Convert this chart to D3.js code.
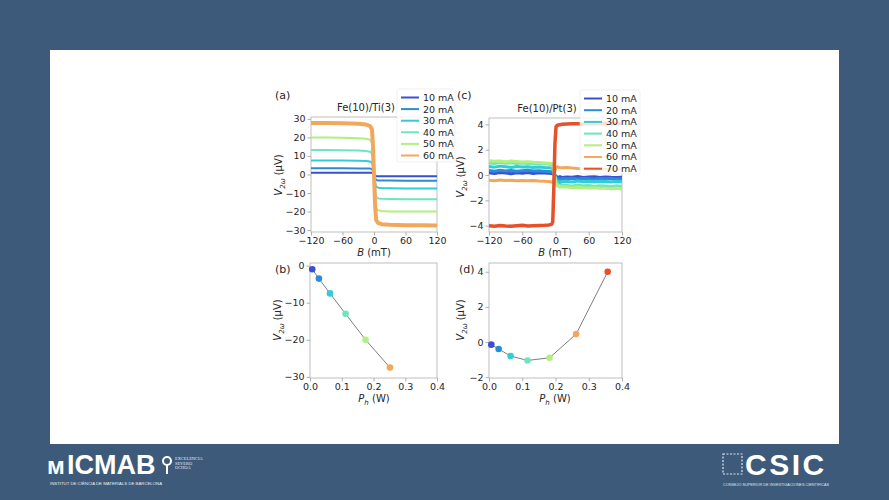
<!DOCTYPE html>
<html>
<head>
<meta charset="utf-8">
<script src="https://cdn.jsdelivr.net/npm/d3@7"></script>
<style>
  body { margin: 0; background: #3d5a7b; }
  svg { display: block; }
</style>
</head>
<body>
<svg id="slide" width="889" height="500"></svg>
<script>
// ---- data ----
const currentsA = ["10 mA", "20 mA", "30 mA", "40 mA", "50 mA", "60 mA"];
const currentsC = ["10 mA", "20 mA", "30 mA", "40 mA", "50 mA", "60 mA", "70 mA"];
const colors = ["#3b4fd3", "#2a8bd8", "#33cbd8", "#6de6be", "#b2ee80", "#f2a85c", "#e8502a"];

// (a) Fe(10)/Ti(3)
const fieldA = [-120, -90, -60, -30, -15, -8, -4, -2, 0, 2, 4, 8, 15, 30, 60, 90, 120];
const vA = [
  [1.0, 1.0, 1.0, 1.0, 1.0, 0.9, 0.9, 0.5, 0, -0.5, -0.9, -1.0, -1.0, -1.0, -1.0, -1.0, -1.0],
  [3.4, 3.4, 3.4, 3.3, 3.3, 3.2, 3.0, 2.0, 0, -2.0, -3.0, -3.2, -3.3, -3.3, -3.4, -3.4, -3.4],
  [7.6, 7.6, 7.5, 7.4, 7.3, 7.0, 6.5, 4.0, 0, -4.0, -6.6, -7.1, -7.3, -7.4, -7.5, -7.5, -7.5],
  [13.2, 13.2, 13.1, 12.9, 12.7, 12.3, 11.5, 7.0, 0, -7.0, -12.0, -12.9, -13.1, -13.2, -13.3, -13.3, -13.3],
  [19.9, 19.9, 19.8, 19.6, 19.3, 18.8, 17.5, 11.0, 0, -11.0, -18.0, -19.3, -19.7, -19.9, -20.0, -20.0, -20.0],
  [27.8, 27.7, 27.6, 27.3, 26.9, 26.2, 24.5, 16.0, 0, -16.0, -24.5, -26.2, -26.8, -27.1, -27.3, -27.4, -27.5]
];

// (c) Fe(10)/Pt(3)
const fieldC = [-120, -110, -100, -90, -80, -70, -60, -50, -40, -30, -20, -12, -7, -5, -3, -1,
                1, 3, 5, 8, 12, 20, 30, 40, 50, 60, 70, 80, 90, 100, 110, 120];
const vC = [
  [0.18, 0.12, 0.2, 0.15, 0.1, 0.18, 0.14, 0.2, 0.12, 0.17, 0.15, 0.13, 0.12, 0.1, 0.05, 0, -0.1, -0.15, -0.18, -0.12, -0.2, -0.15, -0.18, -0.12, -0.2, -0.16, -0.14, -0.2, -0.15, -0.18, -0.2, -0.17],
  [0.35, 0.3, 0.38, 0.32, 0.36, 0.3, 0.34, 0.37, 0.31, 0.33, 0.3, 0.28, 0.26, 0.22, 0.1, 0, -0.15, -0.25, -0.3, -0.35, -0.28, -0.3, -0.26, -0.32, -0.28, -0.3, -0.33, -0.27, -0.3, -0.28, -0.32, -0.3],
  [0.68, 0.62, 0.7, 0.65, 0.6, 0.67, 0.63, 0.66, 0.6, 0.64, 0.6, 0.58, 0.55, 0.5, 0.2, -0.1, -0.35, -0.5, -0.55, -0.6, -0.52, -0.5, -0.55, -0.48, -0.53, -0.5, -0.55, -0.5, -0.52, -0.56, -0.5, -0.53],
  [0.95, 0.9, 0.98, 0.92, 0.96, 0.9, 0.94, 0.9, 0.93, 0.88, 0.9, 0.85, 0.82, 0.75, 0.3, -0.2, -0.6, -0.75, -0.82, -0.85, -0.8, -0.82, -0.86, -0.8, -0.85, -0.83, -0.88, -0.84, -0.86, -0.9, -0.85, -0.88],
  [1.12, 1.08, 1.1, 1.05, 1.1, 1.06, 1.02, 1.05, 1.0, 0.98, 0.95, 0.92, 0.9, 0.85, 0.4, -0.3, -0.7, -0.85, -0.9, -0.95, -0.92, -0.95, -1.0, -0.97, -1.0, -1.02, -1.0, -1.05, -1.05, -1.08, -1.05, -1.1],
  [-0.42, -0.45, -0.4, -0.44, -0.42, -0.46, -0.43, -0.45, -0.44, -0.48, -0.5, -0.52, -0.55, -0.6, -0.3, 0.3, 0.6, 0.65, 0.62, 0.6, 0.58, 0.6, 0.55, 0.52, 0.5, 0.5, 0.48, 0.47, 0.46, 0.45, 0.45, 0.44],
  [-4.0, -4.05, -3.98, -4.02, -4.05, -4.0, -3.97, -4.03, -4.0, -3.98, -3.97, -3.95, -3.9, -3.7, -1.0, 2.5, 3.8, 3.92, 3.95, 3.97, 4.0, 4.02, 4.05, 4.05, 4.03, 4.05, 4.04, 4.05, 4.06, 4.05, 4.05, 4.06]
];

// (b) and (d): amplitude vs heating power
const powerB = [0.007, 0.028, 0.063, 0.112, 0.175, 0.252];
const vB = [-1.0, -3.5, -7.5, -13.0, -20.0, -27.5];
const powerD = [0.007, 0.029, 0.065, 0.116, 0.182, 0.262, 0.357];
const vD = [-0.15, -0.4, -0.8, -1.05, -0.9, 0.45, 4.0];

const svg = d3.select("#slide");
const font = "DejaVu Sans, sans-serif";
const ink = "#262626";

// fondo y panel blanco
svg.append("rect").attr("width", 889).attr("height", 500).attr("fill", "#3d5a7b");
svg.append("rect").attr("x", 50).attr("y", 50).attr("width", 789).attr("height", 394).attr("fill", "#ffffff");

function minus(s) { return String(s).replace("-", "\u2212"); }

// ejes de cada panel
function panel(cfg) {
  const x = d3.scaleLinear().domain(cfg.xd).range(cfg.xr);
  const y = d3.scaleLinear().domain(cfg.yd).range(cfg.yr);
  const g = svg.append("g");

  const clipId = "clip" + cfg.tag;
  svg.append("clipPath").attr("id", clipId).append("rect")
    .attr("x", cfg.xr[0]).attr("y", cfg.yr[1])
    .attr("width", cfg.xr[1] - cfg.xr[0]).attr("height", cfg.yr[0] - cfg.yr[1]);

  const xa = g.append("g").attr("transform", `translate(0,${cfg.yr[0]})`)
    .call(d3.axisBottom(x).tickValues(cfg.xt).tickSize(3.5).tickPadding(2)
      .tickFormat(cfg.xf || (d => minus(d))));
  const ya = g.append("g").attr("transform", `translate(${cfg.xr[0]},0)`)
    .call(d3.axisLeft(y).tickValues(cfg.yt).tickSize(3.5).tickPadding(2)
      .tickFormat(d => minus(d)));
  [xa, ya].forEach(a => {
    a.select(".domain").remove();
    a.selectAll(".tick line").attr("stroke", "#9a9a9a").attr("stroke-width", 0.8);
    a.selectAll(".tick text").attr("fill", ink).style("font-family", font).style("font-size", "9.5px");
  });

  // caja
  g.append("rect").attr("x", cfg.xr[0]).attr("y", cfg.yr[1])
    .attr("width", cfg.xr[1] - cfg.xr[0]).attr("height", cfg.yr[0] - cfg.yr[1])
    .attr("fill", "none").attr("stroke", "#b0b0b0").attr("stroke-width", 0.8);

  const plot = svg.append("g").attr("clip-path", `url(#${clipId})`);
  return { x, y, plot };
}

function yLabel(cx, cy) {
  const t = svg.append("text").attr("transform", `translate(${cx},${cy}) rotate(-90)`)
    .attr("text-anchor", "middle").style("font-family", font).style("font-size", "10px").attr("fill", ink);
  t.append("tspan").attr("font-style", "italic").text("V");
  t.append("tspan").attr("font-style", "italic").attr("font-size", "7px").attr("dy", 2.5).text("2ω");
  t.append("tspan").attr("dy", -2.5).text(" (μV)");
}

function xLabelB(cx, cy) {
  const t = svg.append("text").attr("x", cx).attr("y", cy).attr("text-anchor", "middle")
    .style("font-family", font).style("font-size", "10px").attr("fill", ink);
  t.append("tspan").attr("font-style", "italic").text("B");
  t.append("tspan").text(" (mT)");
}

function xLabelP(cx, cy) {
  const t = svg.append("text").attr("x", cx).attr("y", cy).attr("text-anchor", "middle")
    .style("font-family", font).style("font-size", "10px").attr("fill", ink);
  t.append("tspan").attr("font-style", "italic").text("P");
  t.append("tspan").attr("font-style", "italic").attr("font-size", "7px").attr("dy", 2.5).text("h");
  t.append("tspan").attr("dy", -2.5).text(" (W)");
}

function txt(x, y, s, size, anchor) {
  svg.append("text").attr("x", x).attr("y", y).attr("text-anchor", anchor || "start")
    .style("font-family", font).style("font-size", size + "px").attr("fill", ink).text(s);
}

function legend(x0, y0, w, h, names, step) {
  svg.append("rect").attr("x", x0).attr("y", y0).attr("width", w).attr("height", h).attr("rx", 2)
    .attr("fill", "#ffffff").attr("fill-opacity", 0.82).attr("stroke", "#e6e6e6").attr("stroke-width", 0.6);
  names.forEach((n, i) => {
    const yy = y0 + 8.5 + i * step;
    svg.append("line").attr("x1", x0 + 4).attr("x2", x0 + 22).attr("y1", yy).attr("y2", yy)
      .attr("stroke", colors[i]).attr("stroke-width", 2);
    txt(x0 + 26, yy + 3.4, n, 9.5);
  });
}

const line = (x, y, xs) => d3.line().x((d, i) => x(xs[i])).y(d => y(d));

// ---- (a) ----
const pa = panel({ tag: "a", xd: [-120, 120], xr: [311, 437], yd: [-31, 31], yr: [232, 117],
  xt: [-120, -60, 0, 60, 120], yt: [-30, -20, -10, 0, 10, 20, 30] });
vA.forEach((s, i) => {
  pa.plot.append("path").datum(s).attr("d", line(pa.x, pa.y, fieldA))
    .attr("fill", "none").attr("stroke", colors[i]).attr("stroke-width", i === 5 ? 4 : 2)
    .attr("stroke-linejoin", "round");
});
legend(397, 89, 58, 73, currentsA, 11.6);
txt(275, 99, "(a)", 11);
txt(366, 111, "Fe(10)/Ti(3)", 10, "middle");
yLabel(282, 175);
xLabelB(374, 256);

// ---- (c) ----
const pc = panel({ tag: "c", xd: [-120, 120], xr: [489, 622], yd: [-4.5, 4.5], yr: [232, 118],
  xt: [-120, -60, 0, 60, 120], yt: [-4, -2, 0, 2, 4] });
vC.forEach((s, i) => {
  pc.plot.append("path").datum(s).attr("d", line(pc.x, pc.y, fieldC))
    .attr("fill", "none").attr("stroke", colors[i]).attr("stroke-width", i === 6 ? 3.5 : 3)
    .attr("stroke-linejoin", "round");
});
legend(580, 90, 60, 84, currentsC, 11.7);
txt(457, 99, "(c)", 11);
txt(547, 112, "Fe(10)/Pt(3)", 10, "middle");
yLabel(464, 177);
xLabelB(555, 256);

// ---- (b) ----
const pb = panel({ tag: "b", xd: [0, 0.4], xr: [310, 437], yd: [-30.3, 0.7], yr: [378, 263],
  xt: [0, 0.1, 0.2, 0.3, 0.4], yt: [-30, -20, -10, 0], xf: d3.format(".1f") });
svg.append("path").datum(vB).attr("d", line(pb.x, pb.y, powerB))
  .attr("fill", "none").attr("stroke", "#707070").attr("stroke-width", 0.9);
svg.selectAll("circle.b").data(vB).enter().append("circle").attr("class", "b")
  .attr("cx", (d, i) => pb.x(powerB[i])).attr("cy", d => pb.y(d)).attr("r", 3.3)
  .attr("fill", (d, i) => colors[i]);
txt(275, 273, "(b)", 11);
yLabel(281, 320);
xLabelP(374, 402);

// ---- (d) ----
const pd = panel({ tag: "d", xd: [0, 0.4], xr: [489, 622], yd: [-2.05, 4.5], yr: [378, 263],
  xt: [0, 0.1, 0.2, 0.3, 0.4], yt: [-2, 0, 2, 4], xf: d3.format(".1f") });
svg.append("path").datum(vD).attr("d", line(pd.x, pd.y, powerD))
  .attr("fill", "none").attr("stroke", "#707070").attr("stroke-width", 0.9);
svg.selectAll("circle.d").data(vD).enter().append("circle").attr("class", "d")
  .attr("cx", (d, i) => pd.x(powerD[i])).attr("cy", d => pd.y(d)).attr("r", 3.3)
  .attr("fill", (d, i) => colors[i]);
txt(459, 273, "(d)", 11);
yLabel(464, 320);
xLabelP(555, 402);

// ---- logos (texto) ----
const logoFont = "Liberation Sans, Arial, sans-serif";
svg.append("text").attr("x", 47).attr("y", 474).attr("fill", "#ffffff")
  .style("font-family", logoFont).style("font-weight", "bold").style("font-size", "24px").text("ᴍ");
svg.append("text").attr("x", 67).attr("y", 474).attr("fill", "#ffffff")
  .style("font-family", logoFont).style("font-weight", "bold").style("font-size", "27px").text("ICMAB");
svg.append("circle").attr("cx", 167).attr("cy", 461).attr("r", 4).attr("fill", "none")
  .attr("stroke", "#ffffff").attr("stroke-width", 2);
svg.append("line").attr("x1", 167).attr("x2", 167).attr("y1", 465).attr("y2", 474)
  .attr("stroke", "#ffffff").attr("stroke-width", 2);
svg.append("text").attr("x", 50).attr("y", 485).attr("fill", "#e8eef5")
  .style("font-family", logoFont).style("font-size", "4.3px").text("INSTITUT DE CIÈNCIA DE MATERIALS DE BARCELONA");
["EXCELENCIA", "SEVERO", "OCHOA"].forEach((s, i) => {
  svg.append("text").attr("x", 175).attr("y", 460 + i * 4.6).attr("fill", "#e8eef5")
    .style("font-family", "Liberation Serif, serif").style("font-size", "4.4px").text(s);
});

svg.append("rect").attr("x", 723).attr("y", 454).attr("width", 19).attr("height", 20)
  .attr("fill", "none").attr("stroke", "#dfe6ee").attr("stroke-width", 1.2).attr("stroke-dasharray", "2,1.5");
svg.append("text").attr("x", 745).attr("y", 475).attr("fill", "#ffffff")
  .style("font-family", logoFont).style("font-weight", "bold").style("font-size", "30px")
  .style("letter-spacing", "2.5px").text("CSIC");
svg.append("text").attr("x", 723).attr("y", 486).attr("fill", "#dfe6ee")
  .style("font-family", logoFont).style("font-size", "3.8px")
  .text("CONSEJO SUPERIOR DE INVESTIGACIONES CIENTÍFICAS");
</script>
</body>
</html>
